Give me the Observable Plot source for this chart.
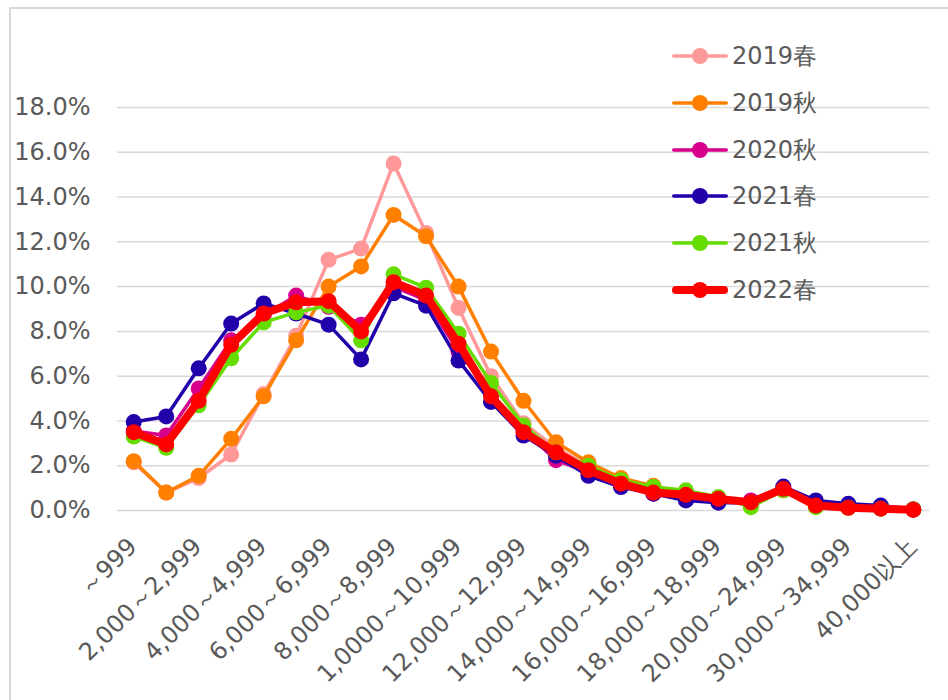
<!DOCTYPE html>
<html>
<head>
<meta charset="utf-8">
<script src="https://cdn.jsdelivr.net/npm/d3@7"></script>
<script src="https://cdn.jsdelivr.net/npm/@observablehq/plot@0.6"></script>
<style>
  body { margin: 0; background: #fff; }
  #wrap { position: relative; width: 948px; height: 700px; overflow: hidden; font-family: "DejaVu Sans", Verdana, sans-serif; color: #595959; }
  #frame { position: absolute; left: 9px; top: 7px; width: 1000px; height: 800px; border-left: 2px solid #d9d9d9; border-top: 2px solid #d9d9d9; }
  #chart { position: absolute; left: 0; top: 0; }
  #legend { position: absolute; left: 671px; top: 33px; }
  .row { display: flex; align-items: center; height: 46.7px; font-size: 24px; }
  .row svg { margin-right: 3px; }
</style>
</head>
<body>
<div id="wrap">
  <div id="frame"></div>
  <div id="chart"></div>
  <div id="legend"></div>
</div>
<script>
const categories = ["～999","1,000～1,999","2,000～2,999","3,000～3,999","4,000～4,999","5,000～5,999","6,000～6,999","7,000～7,999","8,000～8,999","9,000～9,999","1,0000～10,999","11,000～11,999","12,000～12,999","13,000～13,999","14,000～14,999","15,000～15,999","16,000～16,999","17,000～17,999","18,000～18,999","19,000～19,999","20,000～24,999","25,000～29,999","30,000～34,999","35,000～39,999","40,000以上"];

const seriesNames = ["2019春","2019秋","2020秋","2021春","2021秋","2022春"];
const seriesColors = ["#FF9999","#FF8000","#D6008C","#2200AA","#66DD00","#FF0000"];

const v2019spring = [2.15,0.8,1.45,2.5,5.2,7.8,11.2,11.7,15.5,12.4,9.05,6.0,3.9,2.8,2.0,1.4,1.0,0.8,0.5,0.4,0.9,0.3,0.15,0.1,0.05];
const v2019autumn = [2.2,0.8,1.55,3.2,5.1,7.6,10.0,10.9,13.2,12.25,10.0,7.1,4.9,3.05,2.15,1.45,1.1,0.8,0.55,0.4,0.9,0.3,0.15,0.1,0.05];
const v2020autumn = [3.55,3.35,5.45,7.6,8.7,9.6,9.1,8.3,10.0,9.4,7.1,5.2,3.6,2.25,1.7,1.2,0.75,0.6,0.45,0.45,1.0,0.3,0.15,0.1,0.05];
const v2021spring = [3.95,4.2,6.35,8.35,9.25,8.8,8.3,6.75,9.7,9.15,6.7,4.85,3.35,2.45,1.55,1.05,0.75,0.45,0.35,0.35,1.07,0.45,0.3,0.22,0.05];
const v2021autumn = [3.3,2.8,4.7,6.8,8.4,8.85,9.15,7.6,10.55,9.95,7.9,5.7,3.8,2.6,2.0,1.35,1.05,0.9,0.6,0.15,0.9,0.15,0.12,0.08,0.05];
const v2022spring = [3.5,2.95,4.9,7.4,8.8,9.3,9.35,8.0,10.2,9.6,7.45,5.1,3.5,2.6,1.8,1.2,0.8,0.7,0.52,0.37,0.97,0.22,0.12,0.08,0.03];

const yTicks = [0,2,4,6,8,10,12,14,16,18];

const seriesValues = [v2019spring, v2019autumn, v2020autumn, v2021spring, v2021autumn, v2022spring];
const lineWidths = [3.5, 3.5, 3.5, 3.5, 3.5, 8];

const marks = [
  Plot.gridY(yTicks, {stroke: "#d9d9d9", strokeOpacity: 1, strokeWidth: 1.5})
];
seriesValues.forEach((vals, s) => {
  const data = vals.map((v, i) => ({cat: categories[i], value: v}));
  marks.push(Plot.line(data, {x: "cat", y: "value", stroke: seriesColors[s], strokeWidth: lineWidths[s], strokeLinejoin: "round", strokeLinecap: "round"}));
  marks.push(Plot.dot(data, {x: "cat", y: "value", r: 8, fill: seriesColors[s], stroke: "none"}));
});
marks.push(Plot.axisY(yTicks, {tickSize: 0, tickPadding: 27, tickFormat: d => d.toFixed(1) + "%", fontSize: 24, fill: "#595959"}));
marks.push(Plot.axisX(categories.filter((d, i) => i % 2 === 0), {tickSize: 0, tickRotate: -45, tickPadding: 32, fontSize: 24, fill: "#595959", dx: -1}));

const chart = Plot.plot({
  width: 948,
  height: 700,
  marginLeft: 117,
  marginRight: 19,
  marginTop: 107,
  marginBottom: 190,
  style: {fontFamily: "DejaVu Sans, Verdana, sans-serif", fontSize: "24px", color: "#595959", background: "transparent"},
  x: {type: "point", domain: categories, padding: 0.5, round: false, label: null},
  y: {domain: [0, 18], label: null},
  marks
});
document.getElementById("chart").appendChild(chart);

const legend = document.getElementById("legend");
seriesNames.forEach((name, s) => {
  const row = document.createElement("div");
  row.className = "row";
  const w = lineWidths[s];
  row.innerHTML = `<svg width="58" height="20"><line x1="${w/2+1}" y1="10" x2="${57 - w/2}" y2="10" stroke="${seriesColors[s]}" stroke-width="${w}" stroke-linecap="round"/><circle cx="29" cy="10" r="8" fill="${seriesColors[s]}"/></svg><span>${name}</span>`;
  legend.appendChild(row);
});
</script>
</body>
</html>
